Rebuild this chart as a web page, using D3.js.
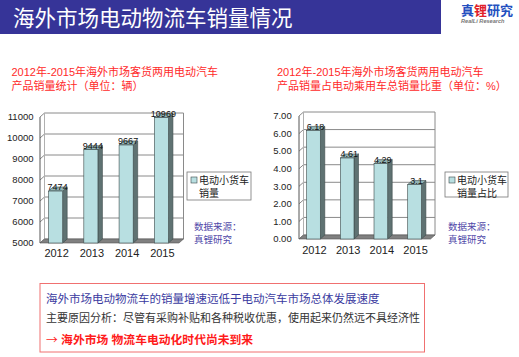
<!DOCTYPE html>
<html><head><meta charset="utf-8">
<script src="https://cdn.jsdelivr.net/npm/d3@7"></script>
<style>
html,body{margin:0;padding:0;background:#fff;}
svg{display:block;}
text{font-family:"Liberation Sans","Noto Sans CJK SC",sans-serif;}
</style></head><body>
<svg id="c" width="519" height="357"></svg>
<script>
const years = ["2012", "2013", "2014", "2015"];
const salesValues = [7474, 9444, 9667, 10969];
const shareValues = [6.18, 4.61, 4.29, 3.1];
const salesTicks = [5000, 6000, 7000, 8000, 9000, 10000, 11000];
const shareTicks = [0, 1, 2, 3, 4, 5, 6, 7];
const shareLabels = ["6.18", "4.61", "4.29", "3.1"];

const svg = d3.select("#c");
const NUM = '"Liberation Sans",Arial,sans-serif';

// header bar
svg.append("rect").attr("x", 0).attr("y", 0).attr("width", 441).attr("height", 34).attr("fill", "#363498");
svg.append("text").attr("x", 13).attr("y", 26).attr("fill", "#fff")
  .attr("font-size", 21.5).text("海外市场电动物流车销量情况");
// logo
const logo = svg.append("text").attr("x", 461).attr("y", 14.5).attr("font-size", 13).attr("font-weight", "bold");
logo.append("tspan").attr("fill", "#2450c0").text("真");
logo.append("tspan").attr("fill", "#e0202a").text("锂");
logo.append("tspan").attr("fill", "#2450c0").text("研究");
svg.append("text").attr("x", 461).attr("y", 22.5).attr("font-size", 5.6).attr("font-style", "italic")
  .attr("font-weight", "bold").attr("fill", "#777").attr("font-family", NUM).text("RealLi Research");

function drawChart(cfg) {
  const g = svg.append("g");
  const dx = 4.5, dy = -4;
  const ys = d3.scaleLinear().domain(cfg.domain).range(cfg.yRange);
  const xs = d3.scaleBand().domain(years).range(cfg.xRange).paddingInner(cfg.pi).paddingOuter(cfg.po);
  const ax = cfg.axisX, backRight = cfg.backRight;
  const y0 = ys(cfg.domain[0]);
  // subtitles
  cfg.subtitle.forEach((s, i) => {
    g.append("text").attr("x", cfg.subX).attr("y", cfg.subY[i]).attr("fill", "#ff2a2a")
      .attr("font-size", 11).text(s);
  });
  // back wall gridlines
  cfg.ticks.forEach(t => {
    g.append("line").attr("x1", ax + dx).attr("x2", backRight).attr("y1", ys(t) + dy).attr("y2", ys(t) + dy)
      .attr("stroke", "#8a8a8a").attr("stroke-width", 1);
    g.append("line").attr("x1", ax).attr("x2", ax + dx).attr("y1", ys(t)).attr("y2", ys(t) + dy)
      .attr("stroke", "#8a8a8a").attr("stroke-width", 1);
  });
  // walls
  const top = ys(cfg.domain[1]);
  g.append("line").attr("x1", backRight).attr("x2", backRight).attr("y1", top + dy).attr("y2", y0 + dy).attr("stroke", "#8a8a8a");
  g.append("line").attr("x1", ax + dx).attr("x2", ax + dx).attr("y1", top + dy).attr("y2", y0 + dy).attr("stroke", "#b0b0b0");
  g.append("line").attr("x1", ax).attr("x2", ax).attr("y1", top).attr("y2", y0).attr("stroke", "#555");
  // floor
  g.append("polygon").attr("points", [[ax, y0], [ax + dx, y0 + dy], [backRight, y0 + dy], [backRight - dx, y0]].join(" "))
    .attr("fill", "#808080").attr("stroke", "#555").attr("stroke-width", 0.6);
  // tick labels
  cfg.ticks.forEach(t => {
    g.append("text").attr("x", cfg.tickX).attr("y", ys(t)).attr("dy", "0.35em").attr("text-anchor", "end")
      .attr("font-family", NUM).attr("font-size", 9.5).attr("fill", "#222").text(cfg.tickFmt(t));
  });
  // bars
  const bw = xs.bandwidth();
  cfg.values.forEach((v, i) => {
    const x = xs(years[i]), y = ys(v);
    g.append("polygon").attr("points", [[x + bw, y], [x + bw + dx, y + dy], [x + bw + dx, y0 + dy], [x + bw, y0]].join(" "))
      .attr("fill", "#5f7272").attr("stroke", "#3c4a4a").attr("stroke-width", 0.6);
    g.append("polygon").attr("points", [[x, y], [x + dx, y + dy], [x + bw + dx, y + dy], [x + bw, y]].join(" "))
      .attr("fill", "#93b4b5").attr("stroke", "#3c4a4a").attr("stroke-width", 0.6);
    g.append("rect").attr("x", x).attr("y", y).attr("width", bw).attr("height", y0 - y)
      .attr("fill", "#b8dfe1").attr("stroke", "#3c4a4a").attr("stroke-width", 0.6);
    g.append("text").attr("x", x + bw / 2 + 2).attr("y", y - 0.8).attr("text-anchor", "middle")
      .attr("font-family", NUM).attr("font-size", 9).attr("fill", "#111").text(cfg.labels[i]);
    g.append("text").attr("x", x + bw / 2 + 1).attr("y", cfg.xLabelY).attr("text-anchor", "middle")
      .attr("font-size", 11).attr("fill", "#222").text(years[i]);
  });
  // legend
  const L = cfg.legend;
  g.append("rect").attr("x", L.x).attr("y", L.y).attr("width", L.w).attr("height", L.h)
    .attr("fill", "#fff").attr("stroke", "#777").attr("stroke-width", 0.8);
  g.append("rect").attr("x", L.x + 4).attr("y", L.y + 5).attr("width", 6).attr("height", 6)
    .attr("fill", "#b8dfe1").attr("stroke", "#3c4a4a").attr("stroke-width", 0.6);
  L.lines.forEach((s, i) => {
    g.append("text").attr("x", L.x + 12).attr("y", L.y + 12 + i * 12.5).attr("font-size", 10).attr("fill", "#222").text(s);
  });
  // source
  g.append("text").attr("x", cfg.srcX).attr("y", 230).attr("font-size", 9.5).attr("fill", "#5048a8").text("数据来源：");
  g.append("text").attr("x", cfg.srcX).attr("y", 242.5).attr("font-size", 9.5).attr("fill", "#5048a8").text("真锂研究");
}

drawChart({
  domain: [5000, 11000], yRange: [243, 117], xRange: [38, 179], pi: 0.6, po: 0.3,
  axisX: 40, backRight: 183.5, ticks: salesTicks, tickX: 33.5, tickFmt: d => String(d),
  values: salesValues, labels: salesValues.map(String), xLabelY: 257,
  subX: 11.5, subY: [75.5, 89.5],
  subtitle: ["2012年-2015年海外市场客货两用电动汽车", "产品销量统计（单位：辆）"],
  legend: { x: 187, y: 172, w: 64, h: 28, lines: ["电动小货车", "销量"] }, srcX: 194
});
drawChart({
  domain: [0, 7], yRange: [239, 116], xRange: [297, 431], pi: 0.594, po: 0.285,
  axisX: 299, backRight: 435, ticks: shareTicks, tickX: 291.7, tickFmt: d => d3.format(".2f")(d),
  values: shareValues, labels: shareLabels, xLabelY: 253.5,
  subX: 277, subY: [75.5, 89.5],
  subtitle: ["2012年-2015年海外市场客货两用电动汽车", "产品销量占电动乘用车总销量比重（单位：%）"],
  legend: { x: 445, y: 172, w: 63, h: 25, lines: ["电动小货车", "销量占比"] }, srcX: 448
});

// bottom box
svg.append("rect").attr("x", 40).attr("y", 283.5).attr("width", 384.5).attr("height", 68.5)
  .attr("fill", "#fff").attr("stroke", "#f07070").attr("stroke-width", 1);
svg.append("text").attr("x", 46).attr("y", 302.5).attr("font-size", 11.5).attr("fill", "#3a3aa0")
  .text("海外市场电动物流车的销量增速远低于电动汽车市场总体发展速度");
svg.append("text").attr("x", 46).attr("y", 321.7).attr("font-size", 11).attr("fill", "#333")
  .text("主要原因分析：尽管有采购补贴和各种税收优惠，使用起来仍然远不具经济性");
const last = svg.append("text").attr("x", 46).attr("y", 343.5).attr("font-size", 11.8).attr("font-weight", "bold").attr("fill", "#ff1a1a");
last.append("tspan").attr("font-family", '"Noto Sans CJK SC",sans-serif').attr("font-weight", "normal").text("→");
last.append("tspan").text(" 海外市场 物流车电动化时代尚未到来");
</script>
</body></html>
